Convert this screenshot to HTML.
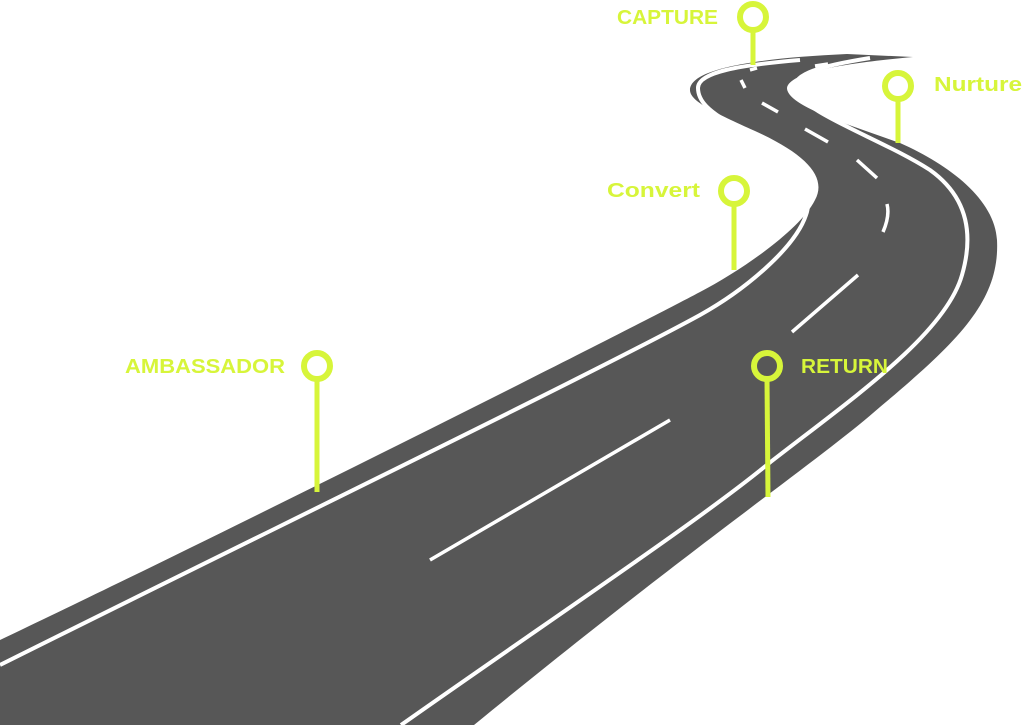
<!DOCTYPE html>
<html><head><style>
html,body{margin:0;padding:0;background:#fff;}
svg{display:block}
text{font-family:"Liberation Sans",sans-serif;font-weight:bold;fill:#d7f53a;}
</style></head><body>
<svg width="1024" height="725" viewBox="0 0 1024 725">
<path d="M0,640 C200,545 600,345 700,292 C742,270 800,230 815,200 C827,178 808,155 755,131 C708,110 690,100 690,90 C690,68 760,58 847,54 L913,57 C860,62 790,70 787,88 C787,106 850,125 900,143 C950,165 995,200 997,240 C1000,300 960,340 880,407 C820,460 700,540 474,725 L0,725 Z" fill="#575757"/>
<g fill="none" stroke="#fff" stroke-width="4">
<path d="M0,665 C250,540 600,370 700,315 C745,290 795,248 806,215 C814,193 798,163 742,130 C706,111 698,100 698,88 C698,72 740,65 800,60"/>
<path d="M401,725 C550,620 700,520 768,464 C850,400 945,335 962,275 C975,230 965,195 930,170 C880,138 800,112 795,88 C793,74 820,66 870,58"/>
<path d="M430,560 L670,420 M792,332 L858,275 M883,232 Q890,216 887,204 M857,160 L877,178 M805,129 L828,142 M762,103 L778,112 M741,80 L745,88 M750,70 L757,68 M815,66 L828,64" stroke-width="3.5"/>
</g>
<g stroke="#d7f53a" stroke-width="6" fill="none">
<line x1="753" y1="30" x2="753" y2="65" stroke-width="5"/><circle cx="753" cy="17" r="13" fill="#fff"/>
<line x1="898" y1="99" x2="898" y2="143" stroke-width="5"/><circle cx="898" cy="86" r="13" fill="#fff"/>
<line x1="734" y1="204" x2="734" y2="270" stroke-width="5"/><circle cx="734" cy="191" r="13" fill="#fff"/>
<line x1="317" y1="379" x2="317" y2="492" stroke-width="5"/><circle cx="317" cy="366" r="13" fill="#fff"/>
<line x1="767" y1="379" x2="768" y2="497" stroke-width="5"/><circle cx="767" cy="366" r="13" fill="#575757"/>
</g>
<text x="617" y="24" font-size="20" textLength="101" lengthAdjust="spacingAndGlyphs">CAPTURE</text>
<text x="934" y="91" font-size="20" textLength="88" lengthAdjust="spacingAndGlyphs">Nurture</text>
<text x="607" y="197" font-size="20" textLength="93" lengthAdjust="spacingAndGlyphs">Convert</text>
<text x="125" y="373" font-size="20" textLength="160" lengthAdjust="spacingAndGlyphs">AMBASSADOR</text>
<text x="801" y="373" font-size="20" textLength="87" lengthAdjust="spacingAndGlyphs">RETURN</text>
</svg>
</body></html>
